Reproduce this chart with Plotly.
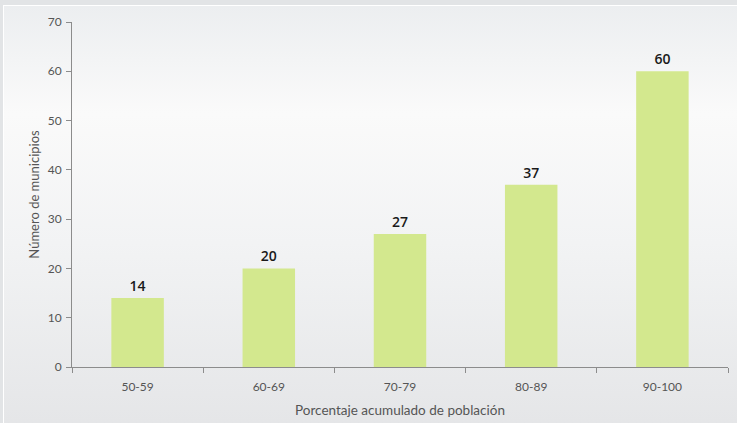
import plotly.graph_objects as go
import base64

categories = ["50-59", "60-69", "70-79", "80-89", "90-100"]
values = [14, 20, 27, 37, 60]
y_ticks = [0, 10, 20, 30, 40, 50, 60, 70]

svg = """<svg xmlns='http://www.w3.org/2000/svg' width='737' height='423'>
<defs>
<linearGradient id='g' x1='0' y1='0' x2='0' y2='1'>
<stop offset='0' stop-color='#eceef0'/>
<stop offset='0.25' stop-color='#fafafa'/>
<stop offset='0.55' stop-color='#f2f3f4'/>
<stop offset='1' stop-color='#e4e5e7'/>
</linearGradient>
</defs>
<rect x='0' y='0' width='737' height='423' fill='#e2e4e6'/>
<rect x='3' y='5' width='740' height='430' fill='#ffffff'/>
<rect x='4' y='6' width='740' height='430' fill='url(#g)'/>
</svg>"""
src = "data:image/svg+xml;base64," + base64.b64encode(svg.encode()).decode()

fig = go.Figure()
fig.add_trace(go.Bar(
    x=categories, y=values,
    marker=dict(color="#d3e88e", line=dict(width=0)),
    text=[str(v) for v in values],
    textposition="outside",
    textfont=dict(family="Open Sans, sans-serif", size=14, color="#1a1a1a", weight=600),
    cliponaxis=False,
    width=0.4,
    hoverinfo="skip",
))

fig.update_layout(
    width=737, height=423,
    margin=dict(l=72, r=9, t=22, b=56),
    paper_bgcolor="rgba(0,0,0,0)",
    plot_bgcolor="rgba(0,0,0,0)",
    showlegend=False,
    images=[dict(source=src, xref="paper", yref="paper", x=-72/656, y=1+22/345,
                 sizex=737/656, sizey=423/345, xanchor="left", yanchor="top",
                 sizing="stretch", layer="below")],
    font=dict(family="Lato, Open Sans, sans-serif", color="#555555", size=12),
)
fig.update_xaxes(
    automargin=False,
    showline=True, linecolor="#8c8c8c", linewidth=1,
    ticks="outside", tickson="boundaries", ticklen=5, tickcolor="#8c8c8c",
    ticklabelstandoff=9,
    showgrid=False,
    tickfont=dict(size=12, color="#555555"),
    title=dict(text="Porcentaje acumulado de población", font=dict(size=13.5, color="#555555"), standoff=12),
)
fig.update_yaxes(
    automargin=False,
    range=[0, 70], tickvals=y_ticks, ticktext=[str(t) for t in y_ticks],
    showline=True, linecolor="#8c8c8c", linewidth=1,
    ticks="outside", ticklen=5, tickcolor="#8c8c8c",
    ticklabelstandoff=2,
    showgrid=False, zeroline=False,
    tickfont=dict(size=12, color="#555555"),
    title=dict(text="Número de municipios", font=dict(size=13, color="#555555"), standoff=5),
)

fig.write_html("out.html", config={"displayModeBar": False},
               post_script="document.body.style.margin='0';document.body.style.overflow='hidden';")
